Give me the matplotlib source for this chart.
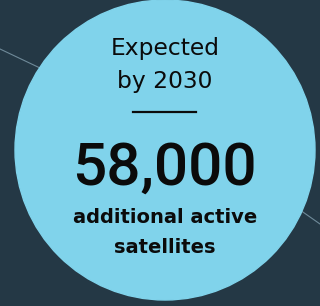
import matplotlib
matplotlib.use("Agg")
import matplotlib.pyplot as plt
from matplotlib.patches import Circle

# chart content
year = 2030
satellites = 58000
header_lines = ["Expected", f"by {year}"]
footer_lines = ["additional active", "satellites"]

bg_clr = "#243845"
circle_clr = "#80d3eb"
orbit_clr = "#6f8a99"
text_clr = "#0b0b0b"

fig = plt.figure(figsize=(3.2, 3.06), dpi=100)
fig.patch.set_facecolor(bg_clr)
ax = fig.add_axes([0, 0, 1, 1])
ax.set_xlim(0, 320)
ax.set_ylim(306, 0)
ax.set_aspect("equal")
ax.axis("off")

# faint orbit lines behind the bubble
ax.plot([0, 40], [49, 68], color=orbit_clr, lw=0.8, zorder=1)
ax.plot([300, 320], [210, 224], color=orbit_clr, lw=0.8, zorder=1)

ax.add_patch(Circle((165, 150), 150, color=circle_clr, zorder=2))

wide = ["DejaVu Sans"]
number_font = ["Roboto", "DejaVu Sans"]
ax.text(165, 54.5, header_lines[0], ha="center", va="baseline", fontsize=16.8,
        family=wide, color=text_clr, zorder=3)
ax.text(165, 88, header_lines[1], ha="center", va="baseline", fontsize=16.8,
        family=wide, color=text_clr, zorder=3)
ax.plot([133, 196], [112, 112], color=text_clr, lw=1.6, zorder=3)
ax.text(164, 185, f"{satellites:,}", ha="center", va="baseline", fontsize=43.5,
        family=number_font, weight="medium", color=text_clr, zorder=3)
ax.text(165, 223, footer_lines[0], ha="center", va="baseline", fontsize=14,
        family=wide, weight="bold", color=text_clr, zorder=3)
ax.text(165, 253, footer_lines[1], ha="center", va="baseline", fontsize=14,
        family=wide, weight="bold", color=text_clr, zorder=3)

fig.savefig("out.png", dpi=100, facecolor=bg_clr)
